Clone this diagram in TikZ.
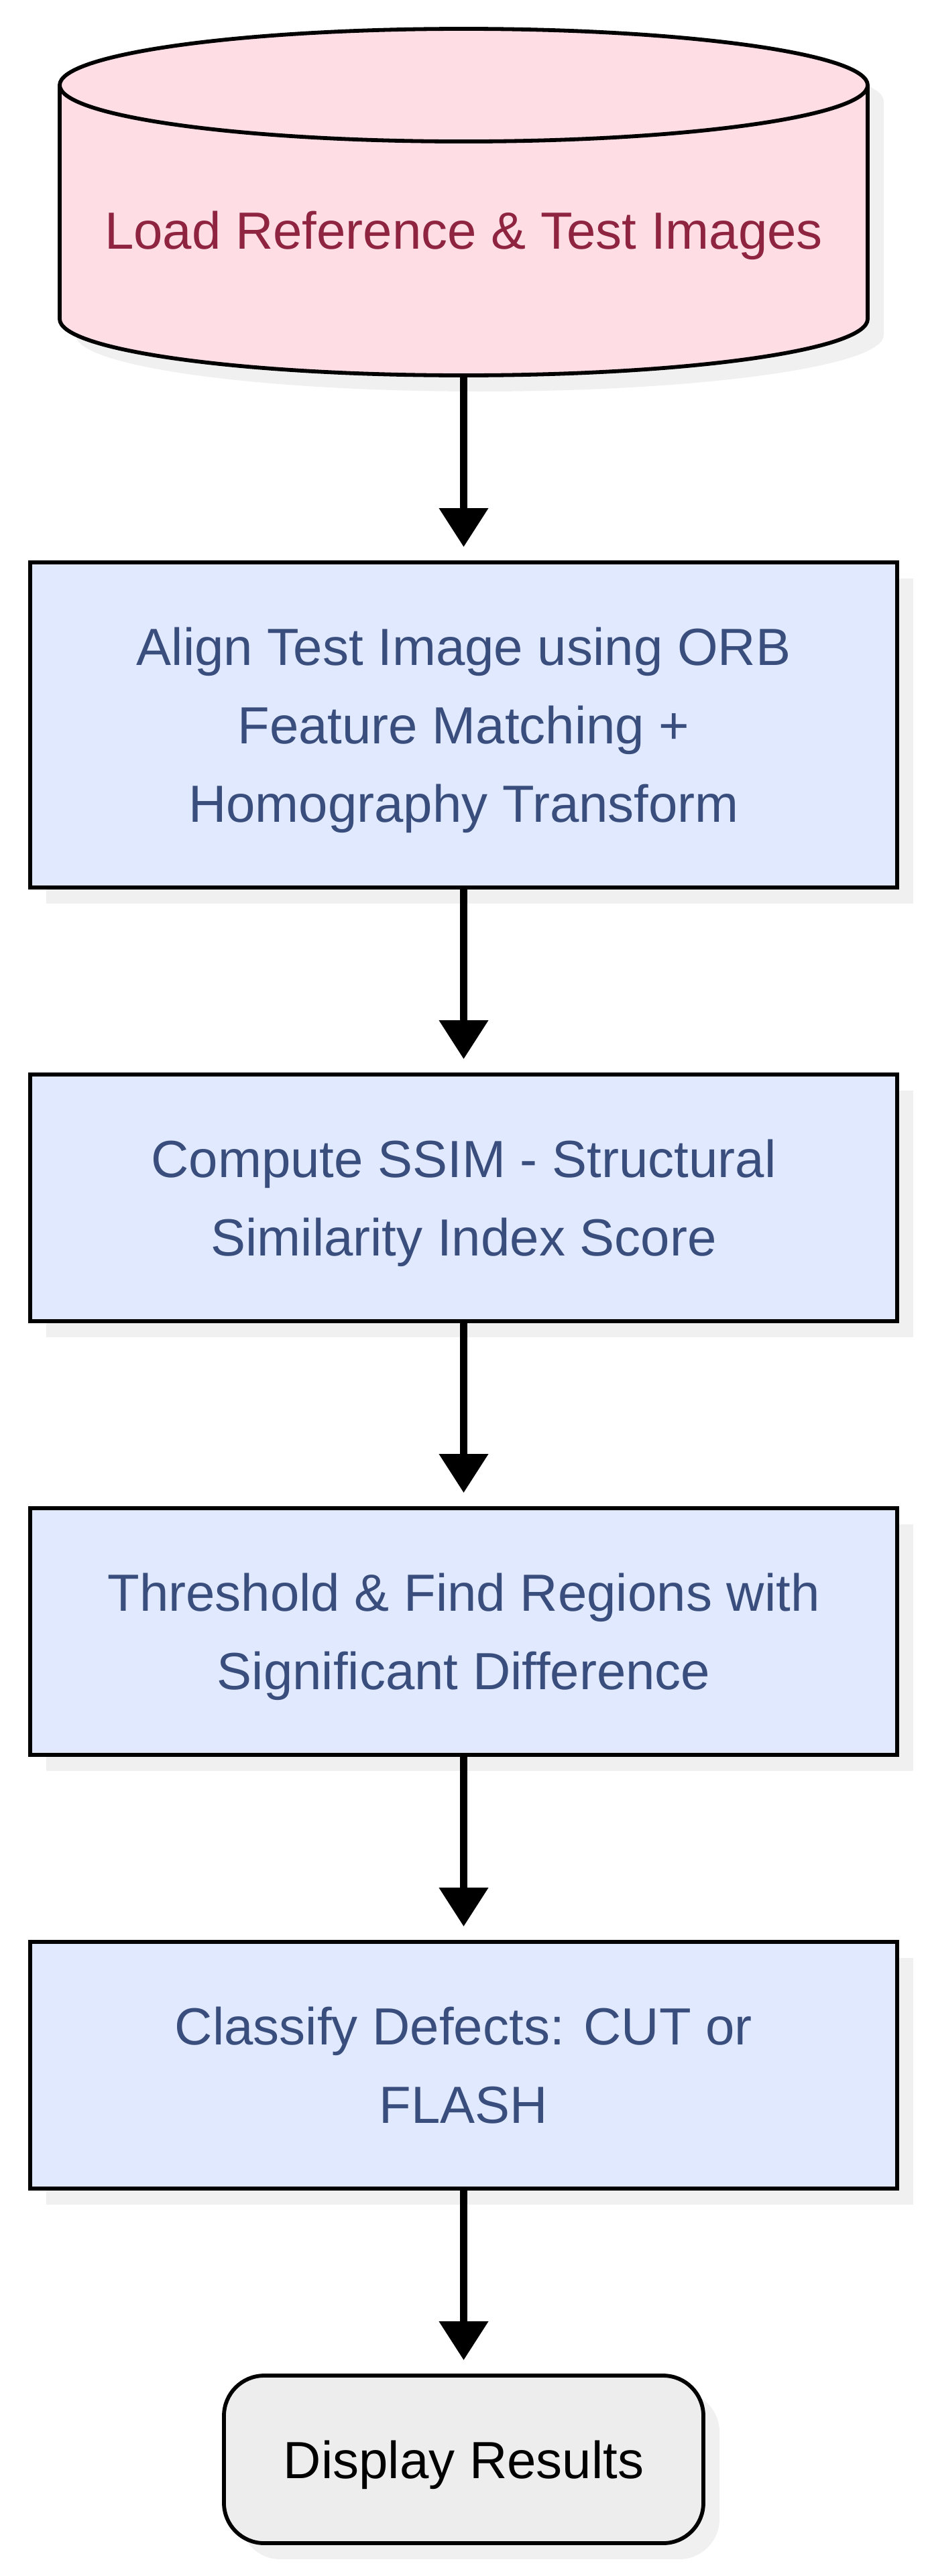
\documentclass[tikz,border=0pt]{standalone}
\usepackage{fontspec}
\setmainfont{Liberation Sans}
\usetikzlibrary{shapes.geometric, arrows.meta, positioning, shadows}

\definecolor{loadfill}{RGB}{255,221,228}
\definecolor{loadtext}{RGB}{142,36,64}
\definecolor{stepfill}{RGB}{224,233,253}
\definecolor{steptext}{RGB}{58,78,126}
\definecolor{endfill}{RGB}{237,237,237}

\begin{document}
\begin{tikzpicture}[
    node distance=139.5pt,
    every node/.style={outer sep=0pt, align=center, font=\fontsize{39}{58.5}\selectfont},
    boxshadow/.style={drop shadow={shadow xshift=12pt, shadow yshift=-12pt, fill=black!6, opacity=1}},
    database/.style={cylinder, shape border rotate=90, aspect=0.155, draw, line width=2.9pt, fill=loadfill, text=loadtext, minimum width=602.5pt, minimum height=258.5pt, boxshadow},
    process/.style={rectangle, draw, line width=2.9pt, fill=stepfill, text=steptext, text depth=0pt, minimum width=646.5pt, minimum height=184pt, boxshadow},
    startstop/.style={rectangle, rounded corners=30pt, draw, line width=2.9pt, fill=endfill, text depth=0pt, minimum width=357.5pt, minimum height=125pt, boxshadow},
    arrow/.style={line width=5.6pt, -{Triangle[length=29pt, width=35.5pt]}, shorten >=11.5pt}
]
\useasboundingbox (0,0) rectangle (691.5pt,-1921.5pt);

% ---------- nodes ----------
\node (load) [database, anchor=south] at (345.75pt,-280pt) {Load Reference \& Test Images};
\node (align) [process, below=of load, minimum height=242.5pt] {Align Test Image using ORB\\Feature Matching +\\Homography Transform};
\node (ssim) [process, below=of align] {Compute SSIM - Structural\\Similarity Index Score};
\node (thresh) [process, below=of ssim] {Threshold \& Find Regions with\\Significant Difference};
\node (classify) [process, below=of thresh] {Classify Defects: CUT or\\FLASH};
\node (display) [startstop, below=of classify] {Display Results};

% ---------- arrows ----------
\draw [arrow] (load) -- (align);
\draw [arrow] (align) -- (ssim);
\draw [arrow] (ssim) -- (thresh);
\draw [arrow] (thresh) -- (classify);
\draw [arrow] (classify) -- (display);

\end{tikzpicture}
\end{document}
